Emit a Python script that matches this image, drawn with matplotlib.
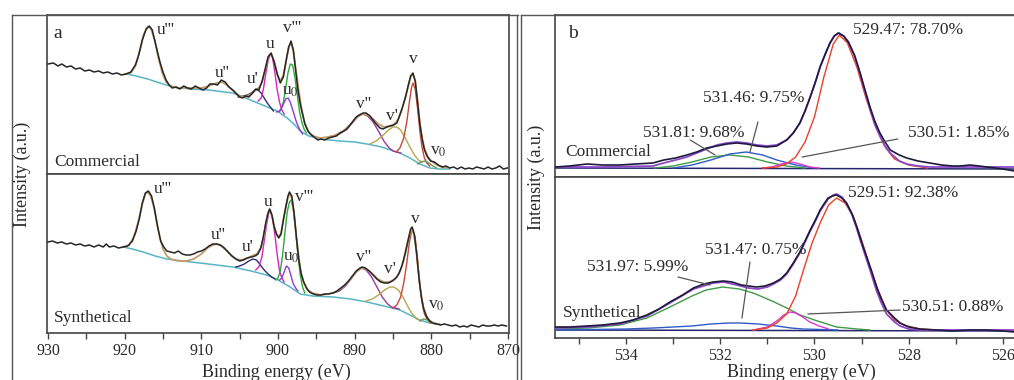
import numpy as np
import matplotlib
matplotlib.use('Agg')
import matplotlib.pyplot as plt
from matplotlib.lines import Line2D
from matplotlib.ticker import MultipleLocator

plt.rcParams['font.family'] = ['Liberation Serif', 'DejaVu Serif']
plt.rcParams['mathtext.fontset'] = 'stix'

# ---------------- panel a : Ce 3d (binding energy, intensity a.u.) ----------------
a_com_raw = [(930.0, 110), (929.3, 111), (928.7, 108), (928.2, 110), (927.6, 107), (927.0, 108),
             (926.4, 105), (925.8, 106), (925.2, 103), (924.6, 104), (924.0, 102), (923.4, 103),
             (922.8, 101), (922.2, 102), (921.6, 100), (921.0, 101), (920.4, 99), (919.8, 100),
             (919.2, 102), (918.6, 109), (918.2, 118), (917.7, 134), (917.2, 145), (916.8, 148),
             (916.4, 144), (915.9, 128), (915.4, 112), (915.0, 102), (914.6, 94), (914.2, 89),
             (913.8, 86), (913.3, 87), (912.8, 85), (912.3, 88), (911.8, 86), (911.3, 85),
             (910.8, 88), (910.3, 86), (909.8, 84), (909.3, 86), (908.9, 90), (908.4, 90),
             (907.9, 89), (907.4, 94), (906.9, 92), (906.4, 87), (905.9, 84), (905.4, 80),
             (905.0, 77), (904.6, 76), (904.2, 78), (903.8, 77), (903.3, 81), (902.9, 85),
             (902.5, 84), (902.1, 92), (901.7, 104), (901.3, 117), (900.9, 121), (900.5, 112),
             (900.1, 100), (899.7, 91), (899.3, 97), (898.9, 115), (898.6, 127), (898.3, 133),
             (898.0, 124), (897.7, 104), (897.4, 84), (897.1, 70), (896.8, 60), (896.5, 50),
             (896.1, 43), (895.8, 40), (895.3, 37), (894.8, 34), (894.4, 35), (893.9, 34),
             (893.4, 36), (892.9, 37), (892.4, 38), (891.9, 41), (891.4, 43), (891.0, 45),
             (890.6, 49), (890.2, 53), (889.8, 57), (889.4, 59), (888.9, 61), (888.5, 61),
             (888.0, 58), (887.6, 54), (887.2, 50), (886.7, 46), (886.3, 45), (885.8, 47),
             (885.3, 48), (884.9, 49), (884.5, 51), (884.2, 57), (883.8, 66), (883.4, 76),
             (883.0, 89), (882.7, 98), (882.4, 101), (882.1, 93), (881.8, 72), (881.5, 50),
             (881.2, 35), (880.9, 24), (880.5, 17), (880.1, 13), (879.6, 12), (879.1, 9),
             (878.6, 7), (878.1, 8), (877.6, 6), (877.1, 7), (876.6, 5), (876.1, 7),
             (875.6, 5), (875.1, 6), (874.6, 5), (874.1, 7), (873.6, 6), (873.1, 5),
             (872.6, 7), (872.1, 5), (871.6, 6), (871.1, 8), (870.6, 5), (870.1, 6)]

a_com_env = [(920.0, 100), (919.2, 101), (918.6, 108), (918.0, 124), (917.5, 140), (917.0, 147),
             (916.6, 146), (916.1, 134), (915.6, 116), (915.1, 101), (914.6, 92), (914.0, 88),
             (913.0, 86), (912.0, 86), (911.0, 86), (910.0, 86), (909.0, 88), (908.0, 91),
             (907.3, 92), (906.5, 88), (905.8, 83), (905.0, 78), (904.3, 77), (903.5, 80),
             (902.9, 84), (902.4, 87), (902.0, 94), (901.6, 107), (901.2, 118), (900.9, 120),
             (900.5, 113), (900.1, 100), (899.7, 93), (899.3, 99), (898.9, 115), (898.6, 127),
             (898.3, 131), (898.0, 123), (897.7, 106), (897.3, 84), (896.9, 64), (896.5, 51),
             (896.0, 42), (895.4, 38), (894.5, 36), (893.5, 37), (892.5, 39), (891.5, 43),
             (890.5, 50), (889.7, 57), (889.0, 60), (888.3, 59), (887.6, 55), (886.9, 50),
             (886.2, 47), (885.5, 48), (884.8, 50), (884.3, 55), (883.9, 63), (883.4, 76),
             (883.0, 88), (882.7, 97), (882.4, 100), (882.1, 93), (881.8, 74), (881.5, 52),
             (881.2, 36), (880.9, 26), (880.5, 18), (880.0, 13), (879.5, 10), (879.0, 8), (878.0, 6)]

a_com_bg = [(919.8, 100), (918.5, 98), (917.0, 95), (915.4, 91), (913.7, 87), (911.5, 85),
            (909.0, 84), (907.0, 82), (905.9, 81), (904.5, 77), (903.3, 73), (901.7, 68),
            (900.1, 63), (898.8, 56), (897.8, 49), (897.1, 43), (896.0, 38), (894.5, 35),
            (892.0, 33), (890.0, 32), (888.4, 30), (886.5, 27), (884.1, 21), (882.8, 16),
            (881.5, 10), (880.2, 6), (879.0, 5), (877.6, 5)]

a_com_u1 = [(905.2, 77), (904.5, 78), (904.0, 79), (903.5, 81), (903.0, 84), (902.6, 84),
            (902.2, 81), (901.8, 76), (901.4, 71), (901.0, 67), (900.6, 63)]
a_com_u = [(902.6, 73), (902.2, 76), (901.9, 85), (901.6, 100), (901.3, 113), (901.0, 120),
           (900.7, 116), (900.4, 101), (900.1, 84), (899.8, 72), (899.5, 64), (899.2, 60)]
a_com_v3 = [(899.9, 62), (899.6, 64), (899.3, 72), (899.0, 86), (898.7, 101), (898.4, 110),
            (898.1, 109), (897.8, 97), (897.5, 80), (897.2, 63), (896.9, 52), (896.6, 45), (896.3, 41)]
a_com_u0 = [(900.2, 62), (899.8, 63), (899.4, 68), (899.0, 75), (898.7, 76), (898.4, 72),
            (898.0, 62), (897.6, 52), (897.2, 45), (896.8, 40)]
a_com_v2 = [(893.0, 37), (892.0, 40), (891.0, 45), (890.2, 52), (889.5, 58), (888.9, 60),
            (888.3, 58), (887.6, 52), (886.9, 43), (886.2, 33), (885.5, 26), (885.0, 23),
            (884.5, 22), (884.0, 21)]
a_com_v1 = [(888.0, 30), (887.2, 33), (886.4, 38), (885.6, 44), (885.0, 47), (884.5, 47),
            (884.0, 44), (883.4, 36), (882.8, 27), (882.2, 19), (881.7, 14), (881.2, 12)]
a_com_v = [(884.6, 22), (884.1, 26), (883.6, 36), (883.2, 52), (882.9, 70), (882.6, 86),
           (882.4, 91), (882.1, 85), (881.8, 66), (881.5, 43), (881.2, 26), (880.9, 16),
           (880.6, 11), (880.2, 8)]
a_com_v0 = [(881.8, 10), (881.3, 12), (880.8, 13), (880.3, 11), (879.8, 8), (879.3, 6)]

a_syn_raw = [(930.0, 91), (929.4, 92), (928.8, 90), (928.2, 91), (927.6, 89), (927.0, 90),
             (926.4, 88), (925.8, 89), (925.2, 87), (924.6, 88), (924.0, 86), (923.4, 88),
             (922.8, 86), (922.4, 89), (922.0, 86), (921.4, 87), (920.8, 85), (920.2, 86),
             (919.6, 87), (919.0, 92), (918.5, 102), (918.1, 114), (917.7, 130), (917.3, 140),
             (916.9, 142), (916.5, 137), (916.1, 124), (915.7, 106), (915.3, 92), (914.9, 86),
             (914.5, 82), (914.0, 81), (913.5, 80), (913.0, 82), (912.5, 79), (912.0, 78),
             (911.5, 78), (911.0, 79), (910.5, 81), (910.0, 82), (909.5, 84), (909.0, 87),
             (908.5, 89), (908.0, 89), (907.5, 88), (907.0, 85), (906.5, 81), (906.0, 77),
             (905.5, 74), (905.0, 72), (904.5, 73), (904.0, 75), (903.5, 76), (903.0, 77),
             (902.6, 79), (902.2, 86), (901.9, 97), (901.6, 110), (901.3, 120), (901.1, 124),
             (900.8, 118), (900.5, 106), (900.2, 99), (899.9, 95), (899.6, 99), (899.3, 113),
             (899.0, 125), (898.7, 137), (898.5, 141), (898.2, 137), (897.9, 120), (897.6, 96),
             (897.3, 74), (897.0, 60), (896.7, 52), (896.3, 45), (895.9, 41), (895.4, 39),
             (894.9, 38), (894.4, 38), (893.9, 39), (893.4, 39), (892.8, 40), (892.3, 42),
             (891.8, 45), (891.3, 48), (890.8, 52), (890.3, 57), (889.8, 62), (889.3, 65),
             (889.0, 66), (888.6, 65), (888.1, 62), (887.6, 58), (887.1, 54), (886.6, 51),
             (886.1, 50), (885.6, 50), (885.1, 52), (884.6, 55), (884.2, 60), (883.8, 68),
             (883.4, 80), (883.0, 94), (882.7, 104), (882.5, 106), (882.2, 98), (881.9, 78),
             (881.6, 54), (881.3, 36), (881.0, 24), (880.6, 16), (880.2, 12), (879.8, 10),
             (879.3, 9), (878.8, 8), (878.3, 9), (877.8, 8), (877.3, 7), (876.8, 8),
             (876.3, 6), (875.8, 7), (875.3, 6), (874.8, 8), (874.3, 7), (873.8, 6),
             (873.3, 8), (872.8, 7), (872.3, 7), (871.8, 8), (871.3, 7), (870.8, 8), (870.2, 7)]

a_syn_env = [(920.2, 86), (919.4, 88), (918.8, 96), (918.2, 112), (917.7, 129), (917.3, 139),
             (917.0, 141), (916.6, 137), (916.2, 126), (915.8, 110), (915.4, 95), (915.0, 84),
             (914.5, 77), (914.0, 74), (913.0, 72), (912.0, 72), (911.0, 74), (910.0, 79),
             (909.2, 85), (908.5, 88), (908.0, 89), (907.4, 87), (906.8, 83), (906.2, 78),
             (905.5, 74), (904.8, 73), (904.0, 75), (903.4, 77), (902.8, 79), (902.3, 84),
             (901.9, 95), (901.6, 109), (901.3, 120), (901.1, 123), (900.8, 118), (900.5, 107),
             (900.2, 99), (899.9, 96), (899.6, 100), (899.3, 113), (899.0, 126), (898.7, 136),
             (898.5, 139), (898.2, 135), (897.9, 118), (897.6, 96), (897.3, 76), (897.0, 60),
             (896.6, 50), (896.1, 43), (895.5, 40), (894.5, 38), (893.5, 39), (892.5, 41),
             (891.5, 46), (890.5, 54), (889.8, 61), (889.1, 65), (888.5, 64), (887.8, 60),
             (887.0, 54), (886.2, 51), (885.5, 51), (884.9, 53), (884.4, 57), (884.0, 63),
             (883.6, 73), (883.2, 87), (882.9, 97), (882.6, 103), (882.3, 100), (882.0, 85),
             (881.7, 62), (881.4, 42), (881.1, 28), (880.7, 18), (880.3, 13), (879.8, 10), (879.0, 9)]

a_syn_bg = [(920.2, 86), (919.0, 84), (917.6, 81), (916.0, 77), (914.5, 74), (912.5, 72),
            (910.2, 70), (908.0, 68), (905.9, 66), (903.5, 62), (901.5, 58), (900.0, 53),
            (898.4, 46), (897.1, 39), (895.5, 37), (892.8, 36), (890.5, 34), (888.4, 31),
            (886.2, 27), (884.1, 23), (882.8, 18), (881.5, 13), (880.2, 10), (878.9, 9)]

a_syn_u1 = [(905.5, 66), (905.0, 67), (904.4, 69), (903.8, 72), (903.3, 74), (902.8, 73),
            (902.3, 68), (901.8, 63), (901.3, 59), (900.8, 56), (900.4, 54)]
a_syn_u = [(902.9, 63), (902.5, 66), (902.1, 76), (901.8, 92), (901.5, 108), (901.2, 120),
           (901.0, 123), (900.7, 115), (900.4, 98), (900.1, 78), (899.8, 62), (899.5, 55), (899.2, 51)]
a_syn_v3 = [(900.3, 53), (900.0, 55), (899.7, 62), (899.4, 78), (899.1, 100), (898.8, 121),
            (898.5, 131), (898.3, 133), (898.0, 124), (897.7, 102), (897.4, 78), (897.1, 58),
            (896.8, 46), (896.5, 40)]
a_syn_u0 = [(899.8, 53), (899.5, 55), (899.2, 61), (898.9, 67), (898.6, 65), (898.3, 57),
            (898.0, 49), (897.7, 45), (897.4, 42)]
a_syn_v2 = [(892.8, 40), (892.0, 42), (891.2, 47), (890.4, 55), (889.7, 62), (889.1, 65),
            (888.5, 63), (887.8, 56), (887.1, 46), (886.4, 36), (885.7, 29), (885.2, 26),
            (884.7, 25), (884.2, 24)]
a_syn_v1 = [(888.5, 32), (887.7, 34), (886.9, 38), (886.1, 43), (885.4, 46), (884.9, 46),
            (884.3, 43), (883.7, 36), (883.1, 27), (882.5, 19), (881.9, 14), (881.3, 12)]
a_syn_v = [(885.0, 25), (884.5, 28), (884.0, 36), (883.6, 50), (883.2, 70), (882.9, 89),
           (882.6, 101), (882.4, 103), (882.1, 95), (881.8, 74), (881.5, 48), (881.2, 30),
           (880.9, 19), (880.5, 13), (880.1, 10)]
a_syn_v0 = [(881.5, 12), (881.0, 14), (880.5, 13), (880.0, 10), (879.5, 9)]

a_peak_labels = ["u'''", "u''", "u'", "u", "v'''", r"u$_{0}$", "v''", "v'", "v", r"v$_{0}$"]
a_com_label_pos = [(914.7, 144), (907.3, 101), (903.3, 95), (901.0, 130), (898.2, 146),
                   (898.4, 83), (888.9, 70), (885.1, 58), (882.4, 115), (879.1, 23)]
a_syn_label_pos = [(915.0, 144), (907.8, 98), (903.9, 86), (901.3, 131), (896.6, 136),
                   (898.2, 76), (888.9, 76), (885.4, 64), (882.1, 114), (879.3, 28)]

# ---------------- panel b : O 1s ----------------
b_com_raw = [(535.5, 10), (535.2, 11), (534.83, 13), (534.5, 12), (534.13, 12), (533.8, 13),
             (533.43, 14), (533.2, 17), (532.95, 19), (532.71, 22), (532.5, 25), (532.29, 29),
             (532.07, 31), (531.86, 33), (531.65, 34), (531.44, 33), (531.22, 31), (531.01, 30),
             (530.8, 31), (530.59, 37), (530.45, 44), (530.31, 54), (530.2, 66), (530.09, 80),
             (529.98, 95), (529.88, 110), (529.77, 123), (529.67, 134), (529.58, 141), (529.49, 144),
             (529.38, 141), (529.28, 135), (529.15, 122), (529.03, 104), (528.92, 86), (528.82, 70),
             (528.72, 56), (528.61, 44), (528.5, 35), (528.39, 27), (528.2, 22), (528.04, 19),
             (527.8, 16), (527.55, 14), (527.3, 12), (527.06, 11), (526.9, 11), (526.7, 12),
             (526.5, 11), (526.34, 10), (526.15, 9), (526.0, 8), (525.75, 6)]
b_com_env = [(535.5, 10), (534.5, 10), (533.43, 11), (533.2, 14), (532.95, 17), (532.71, 20),
             (532.5, 24), (532.29, 28), (532.07, 32), (531.86, 34), (531.65, 35), (531.44, 34),
             (531.22, 32), (531.01, 31), (530.8, 32), (530.59, 37), (530.45, 44), (530.31, 54),
             (530.2, 66), (530.09, 80), (529.98, 95), (529.88, 110), (529.77, 123), (529.67, 134),
             (529.58, 141), (529.49, 144), (529.38, 141), (529.28, 135), (529.15, 121), (529.03, 103),
             (528.92, 84), (528.82, 68), (528.72, 53), (528.61, 41), (528.5, 31), (528.39, 24),
             (528.2, 16), (528.04, 13), (527.8, 11), (527.55, 10), (526.5, 10), (525.75, 10)]
b_com_bg = [(535.5, 9), (525.75, 8)]
b_com_c1 = [(533.4, 9), (533.0, 11), (532.6, 15), (532.2, 20), (531.8, 22), (531.4, 20),
            (531.0, 15), (530.6, 11), (530.2, 9)]                       # 531.81
b_com_c2 = [(533.0, 9), (532.6, 12), (532.2, 17), (531.8, 23), (531.45, 25), (531.1, 22),
            (530.8, 17), (530.4, 12), (530.0, 9)]                       # 531.46
b_com_c3 = [(531.1, 9), (530.9, 10), (530.7, 13), (530.5, 15), (530.3, 13), (530.1, 10), (529.9, 9)]  # 530.51
b_com_c4 = [(531.1, 9), (530.8, 10), (530.6, 13), (530.4, 20), (530.2, 35), (530.0, 60),
            (529.8, 100), (529.6, 133), (529.47, 142), (529.3, 134), (529.1, 110), (528.9, 78),
            (528.7, 50), (528.5, 30), (528.3, 18), (528.0, 12), (527.6, 9)]  # 529.47

b_syn_raw = [(535.5, 11), (535.2, 11), (534.83, 12), (534.5, 13), (534.13, 15), (533.85, 18),
             (533.56, 23), (533.3, 29), (533.07, 36), (532.8, 43), (532.57, 50), (532.35, 54),
             (532.15, 56), (531.93, 57), (531.75, 56), (531.55, 53), (531.4, 52), (531.23, 51),
             (531.05, 52), (530.87, 55), (530.72, 59), (530.59, 65), (530.45, 75), (530.31, 86),
             (530.2, 97), (530.09, 108), (529.98, 118), (529.88, 128), (529.8, 134), (529.71, 140),
             (529.62, 142), (529.53, 143), (529.42, 140), (529.32, 135), (529.2, 124), (529.1, 111),
             (529.0, 96), (528.89, 81), (528.78, 66), (528.68, 51), (528.58, 39), (528.47, 28),
             (528.3, 20), (528.18, 15), (528.0, 11), (527.76, 9), (527.4, 8), (527.06, 7),
             (526.7, 8), (526.35, 8), (526.0, 7), (525.75, 6)]
b_syn_env = [(535.5, 10), (534.83, 11), (534.13, 14), (533.56, 22), (533.07, 35), (532.57, 49),
             (532.15, 55), (531.93, 56), (531.65, 53), (531.4, 50), (531.2, 49), (531.0, 51),
             (530.87, 54), (530.72, 58), (530.59, 64), (530.45, 74), (530.31, 85), (530.2, 96),
             (530.09, 107), (529.98, 117), (529.88, 127), (529.71, 139), (529.6, 143), (529.53, 144),
             (529.42, 141), (529.32, 135), (529.2, 123), (529.1, 109), (529.0, 94), (528.89, 78),
             (528.78, 62), (528.68, 47), (528.58, 35), (528.47, 24), (528.3, 16), (528.18, 12),
             (528.0, 9), (527.76, 8), (527.0, 8), (525.75, 8)]
b_syn_bg = [(535.5, 8), (525.75, 7)]
b_syn_c1 = [(535.5, 9), (534.8, 10), (534.13, 13), (533.56, 20), (533.07, 31), (532.6, 42),
            (532.3, 48), (531.95, 51), (531.6, 49), (531.3, 45), (530.9, 37), (530.59, 30),
            (530.3, 23), (530.0, 18), (529.53, 11), (529.1, 9), (528.82, 8)]   # 531.97
b_syn_c2 = [(535.5, 8), (534.0, 9), (533.42, 10), (533.0, 11), (532.6, 12), (532.2, 14),
            (531.8, 15), (531.57, 15), (531.2, 14), (530.8, 12), (530.5, 10), (530.24, 9), (529.5, 8)]  # 531.47
b_syn_c3 = [(531.3, 8), (531.0, 11), (530.8, 17), (530.65, 23), (530.52, 26), (530.4, 25),
            (530.25, 21), (530.1, 16), (529.9, 12), (529.7, 9)]            # 530.51
b_syn_c4 = [(531.3, 8), (531.0, 10), (530.8, 15), (530.59, 24), (530.4, 42), (530.24, 67),
            (530.05, 95), (529.88, 115), (529.7, 133), (529.53, 140), (529.35, 135), (529.17, 121),
            (529.0, 98), (528.82, 71), (528.65, 48), (528.47, 28), (528.3, 18), (528.11, 13),
            (527.76, 9), (527.4, 8)]                                        # 529.51

b_com_texts = ["529.47: 78.70%", "531.46: 9.75%", "531.81: 9.68%", "530.51: 1.85%"]
b_syn_texts = ["529.51: 92.38%", "531.47: 0.75%", "531.97: 5.99%", "530.51: 0.88%"]

# ---------------- figure ----------------
W, H = 1014, 380
fig = plt.figure(figsize=(W / 100, H / 100), dpi=100)
TXT = '#2a2a2a'


def px_axes(l, t, r, b):
    return fig.add_axes([l / W, 1 - b / H, (r - l) / W, (b - t) / H])


def style(ax, xlim, ylim, major, minor, bottom):
    ax.set_xlim(*xlim)
    ax.set_ylim(*ylim)
    ax.set_yticks([])
    ax.xaxis.set_major_locator(MultipleLocator(major))
    ax.xaxis.set_minor_locator(MultipleLocator(minor))
    ax.tick_params(axis='x', which='both', direction='out', length=4, width=1,
                   color='#444', labelsize=11.5, labelcolor=TXT, pad=3)
    if not bottom:
        ax.tick_params(axis='x', which='both', length=0, labelbottom=False)
    for s in ax.spines.values():
        s.set_color('#444')
        s.set_linewidth(1.2)


def draw(ax, pts, color, lw=1.0, z=2):
    arr = np.array(pts)
    ax.plot(arr[:, 0], arr[:, 1], color=color, lw=lw, zorder=z)


ax_a1 = px_axes(47, 15, 509, 174)
ax_a2 = px_axes(47, 174, 509, 333)
ax_b1 = px_axes(555, 15, 1016, 177)
ax_b2 = px_axes(555, 177, 1016, 338)

style(ax_a1, (930.13, 869.87), (0, 159), 10, 5, False)
style(ax_a2, (930.13, 869.87), (0, 159), 10, 5, True)
style(ax_b1, (535.51, 525.72), (0, 162), 2, 1, False)
style(ax_b2, (535.51, 525.72), (0, 161), 2, 1, True)

comp_colors_a = ['#2e2f6e', '#d623c2', '#2fa83a', '#8a3fd0', '#9a3a9a', '#b8a64c', '#c8473a', '#6b9a5a']

for ax, raw, env, bg, comps, lab_pos, name in [
        (ax_a1, a_com_raw, a_com_env, a_com_bg,
         [a_com_u1, a_com_u, a_com_v3, a_com_u0, a_com_v2, a_com_v1, a_com_v, a_com_v0],
         a_com_label_pos, 'Commercial'),
        (ax_a2, a_syn_raw, a_syn_env, a_syn_bg,
         [a_syn_u1, a_syn_u, a_syn_v3, a_syn_u0, a_syn_v2, a_syn_v1, a_syn_v, a_syn_v0],
         a_syn_label_pos, 'Synthetical')]:
    draw(ax, bg, '#58b5c6', 1.1, 2)
    for c, col in zip(comps, comp_colors_a):
        draw(ax, c, col, 1.0, 3)
    draw(ax, env, '#c39d6c', 1.3, 4)
    draw(ax, raw, '#262626', 1.1, 5)
    for lab, (x, y) in zip(a_peak_labels, lab_pos):
        ax.text(x, y, lab, fontsize=12.5, color=TXT, ha='center', va='center', zorder=6)
    ax.text(929.2, 12 if name == 'Commercial' else 15, name, fontsize=12.5, color=TXT,
            ha='left', va='center')

ax_a1.text(928.7, 140, 'a', fontsize=14, color=TXT, ha='center', va='center')

comp_colors_b = ['#3f9a45', '#2f5bc8', '#d83ad0', '#e8402a']
for ax, raw, env, bg, comps in [
        (ax_b1, b_com_raw, b_com_env, b_com_bg, [b_com_c1, b_com_c2, b_com_c3, b_com_c4]),
        (ax_b2, b_syn_raw, b_syn_env, b_syn_bg, [b_syn_c1, b_syn_c2, b_syn_c3, b_syn_c4])]:
    draw(ax, bg, '#26266e', 1.1, 2)
    for c, col in zip(comps, comp_colors_b):
        draw(ax, c, col, 1.0, 3)
    draw(ax, env, '#8e48c8', 1.3, 4)
    draw(ax, raw, '#1d1a3d', 1.2, 5)

ax_b1.text(535.13, 144, 'b', fontsize=14, color=TXT, ha='center', va='center')
ax_b1.text(535.30, 25, 'Commercial', fontsize=12.5, color=TXT, ha='left', va='center')
ax_b2.text(535.34, 25, 'Synthetical', fontsize=12.5, color=TXT, ha='left', va='center')

b_com_text_pos = [(529.18, 147), (532.37, 79), (533.64, 44), (528.01, 44)]
b_syn_text_pos = [(529.29, 145), (532.32, 88), (534.83, 71), (528.14, 31)]
for ax, texts, pos in [(ax_b1, b_com_texts, b_com_text_pos), (ax_b2, b_syn_texts, b_syn_text_pos)]:
    for t, (x, y) in zip(texts, pos):
        ax.text(x, y, t, fontsize=12.5, color=TXT, ha='left', va='center', zorder=6)

# leader lines (target, start)
lead_kw = dict(arrowstyle='-', color='#555555', lw=0.9, shrinkA=0, shrinkB=0)
for ax, pairs in [(ax_b1, [((532.11, 22), (532.64, 37)), ((531.37, 25), (531.20, 55)),
                           ((530.26, 20), (528.23, 38))]),
                  (ax_b2, [((532.22, 53), (532.90, 61)), ((531.54, 20), (531.37, 76)),
                           ((530.14, 24), (528.18, 28))])]:
    for tgt, src in pairs:
        ax.annotate('', xy=tgt, xytext=src, arrowprops=lead_kw, zorder=6)

# axis titles
fig.text(22 / W, 1 - 174 / H, 'Intensity (a.u.)', rotation=90, fontsize=13, color=TXT,
         ha='center', va='center')
fig.text(536 / W, 1 - 177 / H, 'Intensity (a.u.)', rotation=90, fontsize=13, color=TXT,
         ha='center', va='center')
fig.text(276 / W, 1 - 372 / H, 'Binding energy (eV)', fontsize=13, color=TXT, ha='center', va='center')
fig.text(801 / W, 1 - 372 / H, 'Binding energy (eV)', fontsize=13, color=TXT, ha='center', va='center')

# outer panel frames
frame_kw = dict(transform=fig.transFigure, color='#555555', lw=1.0)
for xs, ys in [([12, 12], [15, 380]), ([12, 518], [15, 15]), ([517, 517], [15, 380]),
               ([521, 521], [15, 380]), ([521, 1014], [15, 15])]:
    fig.add_artist(Line2D([x / W for x in xs], [1 - y / H for y in ys], **frame_kw))

fig.savefig('out.png', dpi=100)
